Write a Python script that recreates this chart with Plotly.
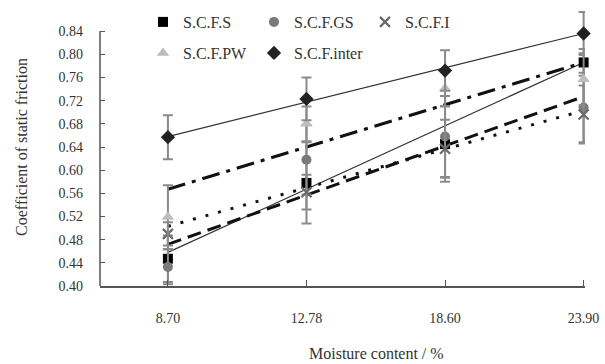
import plotly.graph_objects as go

# ---- data ----
moisture_labels = ["8.70", "12.78", "18.60", "23.90"]
x_pos = [0, 1, 2, 3]

scf_s = [0.447, 0.578, 0.645, 0.786]
scf_s_err = [0.040, 0.070, 0.065, 0.023]
scf_gs = [0.433, 0.618, 0.658, 0.708]
scf_gs_err = [0.030, 0.060, 0.070, 0.060]
scf_i = [0.490, 0.562, 0.637, 0.696]
scf_i_err = [0.020, 0.030, 0.050, 0.050]
scf_pw = [0.519, 0.680, 0.741, 0.757]
scf_pw_err = [0.055, 0.030, 0.030, 0.045]
scf_inter = [0.657, 0.723, 0.772, 0.836]
scf_inter_err = [0.038, 0.037, 0.035, 0.037]

# linear trend lines (values at first and last moisture level)
trend_x = [0, 3]
trend_s = [0.458, 0.786]
trend_gs = [0.472, 0.727]
trend_i = [0.503, 0.703]
trend_pw = [0.567, 0.786]
trend_inter = [0.658, 0.836]

y_ticks = [0.40, 0.44, 0.48, 0.52, 0.56, 0.60, 0.64, 0.68, 0.72, 0.76, 0.80, 0.84]

FONT = "Liberation Serif, Times New Roman, serif"
ERR = dict(type="data", visible=True, color="#8a8a8a", thickness=2, width=5)

fig = go.Figure()

# trend lines
trend_styles = [
    (trend_s, dict(color="#333333", width=1.2, dash="solid")),
    (trend_gs, dict(color="#111111", width=3, dash="14px,7px")),
    (trend_i, dict(color="#111111", width=3, dash="3px,10px")),
    (trend_pw, dict(color="#111111", width=3, dash="18px,7px,4px,7px")),
    (trend_inter, dict(color="#333333", width=1.2, dash="solid")),
]
for tv, ls in trend_styles:
    fig.add_trace(go.Scatter(x=trend_x, y=tv, mode="lines", line=ls,
                             showlegend=False, hoverinfo="skip"))

series = [
    ("S.C.F.S", scf_s, scf_s_err, dict(symbol="square", size=10, color="#000000"), "legend"),
    ("S.C.F.GS", scf_gs, scf_gs_err, dict(symbol="circle", size=10, color="#7a7a7a"), "legend"),
    ("S.C.F.I", scf_i, scf_i_err, dict(symbol="x-thin-open", size=10, color="#6a6a6a",
                                        line=dict(width=2.2, color="#6a6a6a")), "legend"),
    ("S.C.F.PW", scf_pw, scf_pw_err, dict(symbol="triangle-up", size=11, color="#bdbdbd"), "legend2"),
    ("S.C.F.inter", scf_inter, scf_inter_err, dict(symbol="diamond", size=11, color="#222222"), "legend2"),
]
for name, vals, errs, mk, lg in series:
    fig.add_trace(go.Scatter(x=x_pos, y=vals, mode="markers", name=name, marker=mk,
                             error_y=dict(array=errs, **ERR), legend=lg, cliponaxis=False))

# y-axis line only from 0.40 to 0.84
fig.add_shape(type="line", xref="paper", yref="y", x0=0, x1=0, y0=0.40, y1=0.84,
              line=dict(color="#555555", width=1.5))

fig.add_annotation(text="Moisture content / %", xref="paper", yref="paper",
                   x=(376 - 100) / 485, y=-(353 - 286) / 278, showarrow=False,
                   font=dict(family=FONT, size=16, color="#333333"), yanchor="middle")

legend_common = dict(orientation="h", xanchor="left", yanchor="top", bgcolor="rgba(0,0,0,0)",
                     font=dict(family=FONT, size=16, color="#333333"),
                     entrywidth=66, entrywidthmode="pixels", itemclick=False, tracegroupgap=0)

fig.update_layout(
    width=605, height=364,
    margin=dict(l=100, r=20, t=8, b=78, autoexpand=False),
    paper_bgcolor="white", plot_bgcolor="white",
    font=dict(family=FONT, size=14, color="#333333"),
    xaxis=dict(range=[-0.49, 3.01], tickvals=x_pos, ticktext=moisture_labels, automargin=False,
               showgrid=False, zeroline=False, showline=True, linecolor="#555555", linewidth=1.5,
               ticks="inside", ticklen=6, tickcolor="#555555", tickwidth=1.2,
               ticklabelstandoff=18, tickfont=dict(family=FONT, size=14, color="#333333")),
    yaxis=dict(range=[0.40, 0.88], tickvals=y_ticks, ticktext=[f"{v:.2f}" for v in y_ticks],
               automargin=False,
               showgrid=False, zeroline=False, showline=False,
               ticks="inside", ticklen=5, tickcolor="#555555", tickwidth=1.2,
               ticklabelstandoff=16, tickfont=dict(family=FONT, size=14, color="#333333"),
               title=dict(text="Coefficient of static friction", standoff=26,
                          font=dict(family=FONT, size=16, color="#333333"))),
    legend=dict(x=(143 - 100) / 485, y=(286 - 5) / 278, **legend_common),
    legend2=dict(x=(143 - 100) / 485, y=(286 - 36) / 278, **legend_common),
)

fig.write_html("out.html", config={"displayModeBar": False},
               post_script="document.body.style.margin='0px';")
